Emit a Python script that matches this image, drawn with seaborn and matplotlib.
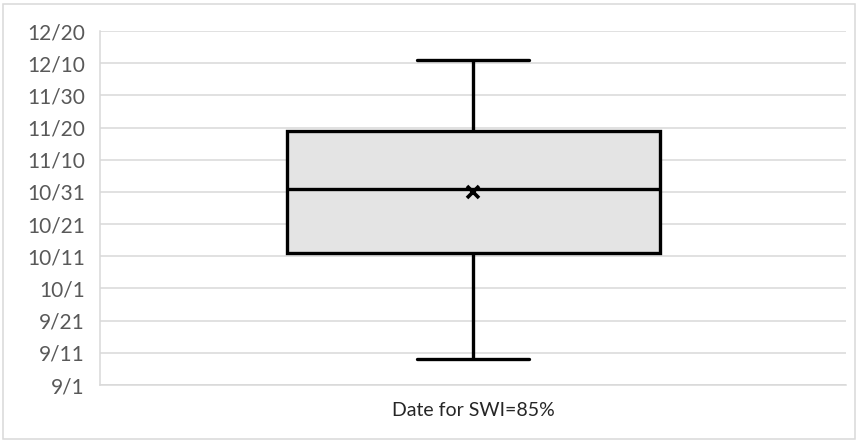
import matplotlib
matplotlib.use("Agg")
import matplotlib.pyplot as plt
import seaborn as sns
import pandas as pd

# Observed dates on which SWI reached 85%
swi_dates = ["9/9", "9/26", "10/12", "10/21", "11/1", "11/15", "11/19", "12/10", "12/11"]
# Axis tick labels (every 10 days)
tick_labels = ["9/1", "9/11", "9/21", "10/1", "10/11", "10/21", "10/31",
               "11/10", "11/20", "11/30", "12/10", "12/20"]
category = "Date for SWI=85%"

YEAR = 2019
base = pd.Timestamp(f"{YEAR}-09-01")


def day_offset(md):
    m, d = md.split("/")
    return (pd.Timestamp(year=YEAR, month=int(m), day=int(d)) - base).days


df = pd.DataFrame({
    "series": [category] * len(swi_dates),
    "day": [day_offset(s) for s in swi_dates],
})
tick_pos = [day_offset(s) for s in tick_labels]

sns.set_theme(style="white")
plt.rcParams["font.family"] = ["Lato", "DejaVu Sans"]

W, H = 858, 442
fig = plt.figure(figsize=(W / 100, H / 100), dpi=100)
ax = fig.add_axes([100 / W, (H - 385) / H, 746 / W, (385 - 31) / H])

sns.boxplot(
    data=df, x="series", y="day", ax=ax,
    width=0.5, color="#E4E4E4", linecolor="black", linewidth=2.4,
    whis=1.5, showmeans=True, capwidths=0.15,
    meanprops=dict(marker="x", markeredgecolor="black", markerfacecolor="black",
                   markersize=8, markeredgewidth=2.6),
    boxprops=dict(facecolor="#E4E4E4", edgecolor="black"),
    showfliers=False,
)

ax.set_ylim(tick_pos[0], tick_pos[-1])
ax.set_yticks(tick_pos)
ax.set_yticklabels(tick_labels, color="#595959", fontsize=15)
ax.set_xlim(-0.5, 0.5)
ax.set_xticks([0])
ax.set_xticklabels([category], color="#262626", fontsize=14)
ax.set_xlabel("")
ax.set_ylabel("")
ax.tick_params(axis="y", length=0, pad=11)
ax.tick_params(axis="x", length=0, pad=12)

ax.yaxis.grid(True, color="#D9D9D9", linewidth=1.1)
ax.set_axisbelow(True)
for side in ["top", "right"]:
    ax.spines[side].set_visible(False)
for side in ["left", "bottom"]:
    ax.spines[side].set_color("#D9D9D9")
    ax.spines[side].set_linewidth(1.1)

# Chart area border
fig.patches.append(plt.Rectangle((3 / W, 3 / H), 1 - 6 / W, 1 - 7 / H,
                                 transform=fig.transFigure, fill=False,
                                 edgecolor="#D9D9D9", linewidth=1.1))

fig.savefig("out.png", dpi=100)
